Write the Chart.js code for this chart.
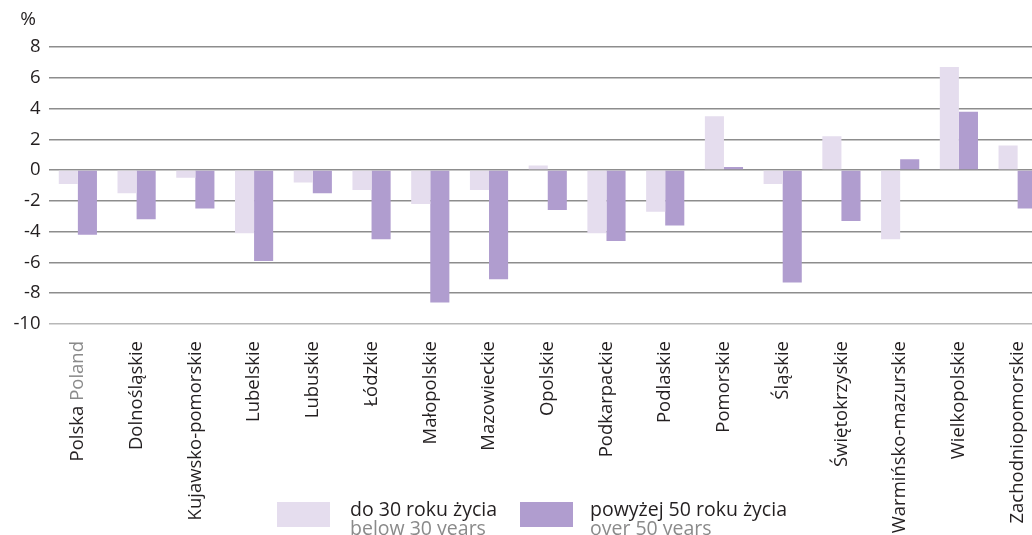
<!DOCTYPE html>
<html>
<head>
<meta charset="utf-8">
<script src="https://cdn.jsdelivr.net/npm/chart.js@4.4.1/dist/chart.umd.min.js"></script>
<style>
  html, body { margin: 0; padding: 0; background: #fff; overflow: hidden; }
  canvas { display: block; }
</style>
</head>
<body>
<canvas id="regionChart" width="1047" height="535"></canvas>
<script>
var regions = ['Polska Poland', 'Dolnośląskie', 'Kujawsko-pomorskie', 'Lubelskie', 'Lubuskie', 'Łódzkie',
    'Małopolskie', 'Mazowieckie', 'Opolskie', 'Podkarpackie', 'Podlaskie', 'Pomorskie', 'Śląskie',
    'Świętokrzyskie', 'Warmińsko-mazurskie', 'Wielkopolskie', 'Zachodniopomorskie'];
var below30 = [-0.9, -1.5, -0.5, -4.1, -0.8, -1.3, -2.2, -1.3, 0.3, -4.1, -2.7, 3.5, -0.9, 2.2, -4.5, 6.7, 1.6];
var over50 = [-4.2, -3.2, -2.5, -5.9, -1.5, -4.5, -8.6, -7.1, -2.6, -4.6, -3.6, 0.2, -7.3, -3.3, 0.7, 3.8, -2.5];
var seriesNames = [['do 30 roku życia', 'below 30 years'], ['powyżej 50 roku życia', 'over 50 years']];
var yTicks = [-10, -8, -6, -4, -2, 0, 2, 4, 6, 8];

var lightColor = '#e5ddee';
var darkColor = '#b09dcf';
var textColor = '#231f20';
var greyText = '#8a8a8a';
var fontFamily = '"Open Sans", "Noto Sans", sans-serif';

// rysuje "%", dwukolorowa etykiete Polska/Poland i legende
var extrasPlugin = {
    id: 'extras',
    afterDraw: function(chart) {
        var c = chart.ctx;
        var x = chart.scales.x;
        c.save();
        c.font = '19px ' + fontFamily;
        c.fillStyle = textColor;
        c.textAlign = 'right';
        c.textBaseline = 'alphabetic';
        c.fillText('%', 36, 25);

        // pierwsza etykieta osi x w dwoch kolorach
        var items = x._labelItems || x.getLabelItems(chart.chartArea);
        var it = items[0];
        if (it) {
            var o = it.options;
            c.save();
            c.translate(o.translation[0], o.translation[1]);
            c.rotate(o.rotation);
            c.font = it.font.string;
            c.textAlign = 'right';
            c.textBaseline = o.textBaseline;
            c.fillStyle = greyText;
            c.fillText('Poland', 0, it.textOffset);
            var w = c.measureText('Poland').width;
            c.fillStyle = textColor;
            c.fillText('Polska ', -w, it.textOffset);
            c.restore();
        }

        // legenda
        var legend = [
            { box: 277, text: 350, color: lightColor, names: seriesNames[0] },
            { box: 520, text: 590, color: darkColor, names: seriesNames[1] }
        ];
        c.textAlign = 'left';
        legend.forEach(function(l) {
            c.fillStyle = l.color;
            c.fillRect(l.box, 502, 53, 25);
            c.font = '19.5px ' + fontFamily;
            c.fillStyle = textColor;
            c.fillText(l.names[0], l.text, 516);
            c.fillStyle = greyText;
            c.fillText(l.names[1], l.text, 535);
        });
        c.restore();
    }
};

var ctx = document.getElementById('regionChart').getContext('2d');
var chart = new Chart(ctx, {
    type: 'bar',
    data: {
        labels: regions,
        datasets: [{
            label: seriesNames[0].join(' '),
            data: below30,
            backgroundColor: lightColor,
            borderWidth: 0
        }, {
            label: seriesNames[1].join(' '),
            data: over50,
            backgroundColor: darkColor,
            borderWidth: 0
        }]
    },
    options: {
        responsive: false,
        animation: false,
        devicePixelRatio: 1,
        layout: { padding: { top: 47, left: 0, right: 0, bottom: 0 } },
        plugins: {
            legend: { display: false },
            tooltip: { enabled: false }
        },
        datasets: {
            bar: { categoryPercentage: 0.65, barPercentage: 1.0 }
        },
        scales: {
            x: {
                grid: { display: false, drawTicks: false },
                border: { display: false },
                afterFit: function(s) {
                    s.height = 211;
                    s.paddingLeft = 0;
                    s.paddingRight = 0;
                },
                ticks: {
                    minRotation: 90,
                    maxRotation: 90,
                    autoSkip: false,
                    padding: 17,
                    font: { family: fontFamily, size: 18.5 },
                    color: function(c) { return c.index === 0 ? 'rgba(0,0,0,0)' : textColor; }
                }
            },
            y: {
                min: -10,
                max: 8,
                afterFit: function(s) { s.width = 48.5; },
                afterBuildTicks: function(s) { s.ticks = yTicks.map(function(v) { return { value: v }; }); },
                grid: {
                    drawTicks: false,
                    lineWidth: 1.5,
                    color: function(c) { return c.tick && c.tick.value === -10 ? '#b8b8b8' : '#8d8d8d'; }
                },
                border: { display: false },
                ticks: {
                    padding: 8,
                    font: { family: fontFamily, size: 18.5 },
                    color: textColor
                }
            }
        }
    },
    plugins: [extrasPlugin]
});
</script>
</body>
</html>
